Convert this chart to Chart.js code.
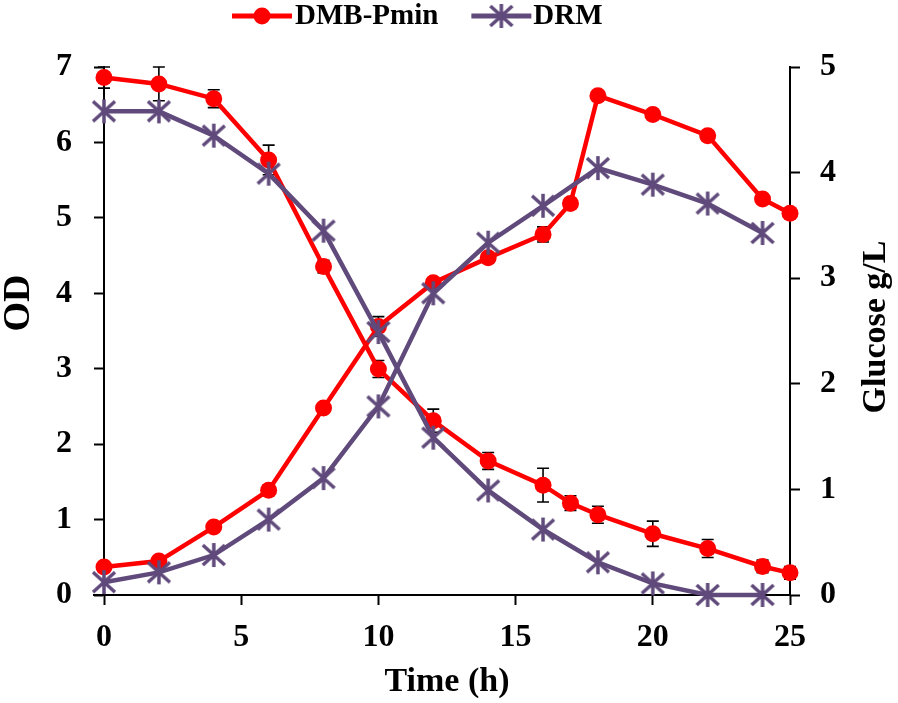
<!DOCTYPE html>
<html>
<head>
<meta charset="utf-8">
<script src="https://cdn.jsdelivr.net/npm/chart.js@4.4.0/dist/chart.umd.min.js"></script>
<style>
  html, body { margin: 0; padding: 0; background: #fff; }
  #wrap { width: 898px; height: 703px; position: relative; }
</style>
</head>
<body>
<div id="wrap"><canvas id="growthChart"></canvas></div>
<script>
// sampling times (h)
const timeDMB = [0, 2, 4, 6, 8, 10, 12, 14, 16, 17, 18, 20, 22, 24, 25];
const timeDRM = [0, 2, 4, 6, 8, 10, 12, 14, 16, 18, 20, 22, 24];

// OD (left axis)
const odDMB = [0.37, 0.45, 0.90, 1.39, 2.48, 3.56, 4.14, 4.47, 4.78, 5.19, 6.62, 6.37, 6.09, 5.25, 5.06];
const odDMBErr = [0.05, 0.05, 0.05, 0.07, 0.05, 0.13, 0.05, 0.05, 0.10, 0.05, 0.05, 0.05, 0.05, 0.05, 0.05];
const odDRM = [0.17, 0.30, 0.53, 1.00, 1.55, 2.50, 4.00, 4.67, 5.16, 5.66, 5.44, 5.19, 4.80];

// glucose g/L (right axis)
const glcDMB = [4.90, 4.84, 4.70, 4.12, 3.11, 2.14, 1.65, 1.27, 1.04, 0.87, 0.76, 0.58, 0.44, 0.27, 0.21];
const glcDMBErr = [0.10, 0.16, 0.085, 0.14, 0.06, 0.08, 0.11, 0.08, 0.16, 0.07, 0.08, 0.12, 0.085, 0.06, 0.06];
const glcDRM = [4.58, 4.58, 4.35, 3.99, 3.45, 2.49, 1.49, 0.99, 0.62, 0.31, 0.11, 0, 0];

const seriesNames = ["DMB-Pmin", "DRM"];

const red = "#FF0000";
const purple = "#604A7B";
const serif = "'Liberation Serif', 'Times New Roman', serif";

function toPoints(xs, ys) {
  return xs.map((x, i) => ({ x: x, y: ys[i] }));
}

// excel style star marker: X with a vertical bar
function makeStar() {
  const c = document.createElement("canvas");
  c.width = 28;
  c.height = 28;
  const g = c.getContext("2d");
  g.strokeStyle = purple;
  g.lineWidth = 3.5;
  g.beginPath();
  g.moveTo(3, 4);
  g.lineTo(25, 24);
  g.moveTo(25, 4);
  g.lineTo(3, 24);
  g.moveTo(14, 2);
  g.lineTo(14, 26);
  g.stroke();
  return c;
}
const starImg = makeStar();

const redStyle = {
  borderColor: red,
  backgroundColor: red,
  borderWidth: 4.5,
  pointStyle: "circle",
  pointRadius: 8.5,
  pointBorderWidth: 0,
  pointBackgroundColor: red,
  tension: 0,
  clip: false,
  order: 2,
};
const purpleStyle = {
  borderColor: purple,
  backgroundColor: purple,
  borderWidth: 4.5,
  pointStyle: starImg,
  pointRadius: 12,
  tension: 0,
  clip: false,
  order: 1,
};

// error bars, drawn under the markers
const errorBars = {
  id: "errorBars",
  beforeDatasetsDraw(chart) {
    const ctx = chart.ctx;
    chart.data.datasets.forEach((ds, i) => {
      if (!ds.errors) return;
      const yScale = chart.scales[ds.yAxisID];
      const meta = chart.getDatasetMeta(i);
      ctx.save();
      ctx.strokeStyle = "#000";
      ctx.lineWidth = 1.6;
      meta.data.forEach((pt, j) => {
        const v = ds.data[j].y;
        const e = ds.errors[j];
        const top = yScale.getPixelForValue(v + e);
        const bot = yScale.getPixelForValue(v - e);
        ctx.beginPath();
        ctx.moveTo(pt.x, top);
        ctx.lineTo(pt.x, bot);
        ctx.moveTo(pt.x - 6, top);
        ctx.lineTo(pt.x + 6, top);
        ctx.moveTo(pt.x - 6, bot);
        ctx.lineTo(pt.x + 6, bot);
        ctx.stroke();
      });
      ctx.restore();
    });
  },
};

// legend on top + vertical axis titles
const extras = {
  id: "extras",
  afterDraw(chart) {
    const ctx = chart.ctx;
    const area = chart.chartArea;
    ctx.save();

    // x axis line runs a little past the OD axis
    ctx.strokeStyle = "#000";
    ctx.lineWidth = 2;
    ctx.beginPath();
    ctx.moveTo(area.left - 11, area.bottom);
    ctx.lineTo(area.left, area.bottom);
    ctx.stroke();

    ctx.fillStyle = "#000";
    ctx.font = "bold 29px " + serif;
    ctx.textBaseline = "middle";
    ctx.textAlign = "left";
    let x = 232;
    const ly = 16;
    // DMB-Pmin
    ctx.strokeStyle = red;
    ctx.lineWidth = 5;
    ctx.beginPath();
    ctx.moveTo(x, ly);
    ctx.lineTo(x + 60, ly);
    ctx.stroke();
    ctx.fillStyle = red;
    ctx.beginPath();
    ctx.arc(x + 30, ly, 8.5, 0, Math.PI * 2);
    ctx.fill();
    ctx.fillStyle = "#000";
    ctx.fillText(seriesNames[0], x + 63, ly + 1);
    x += 63 + ctx.measureText(seriesNames[0]).width + 33;
    // DRM
    ctx.strokeStyle = purple;
    ctx.beginPath();
    ctx.moveTo(x, ly);
    ctx.lineTo(x + 60, ly);
    ctx.stroke();
    ctx.drawImage(starImg, x + 30 - 14, ly - 14);
    ctx.fillText(seriesNames[1], x + 62, ly + 1);

    // y titles
    ctx.textAlign = "center";
    ctx.save();
    ctx.translate(19, 303);
    ctx.rotate(-Math.PI / 2);
    ctx.font = "bold 38px " + serif;
    ctx.fillText("OD", 0, 0);
    ctx.restore();

    ctx.save();
    ctx.translate(876, (area.top + area.bottom) / 2 - 4);
    ctx.rotate(-Math.PI / 2);
    ctx.font = "bold 34px " + serif;
    ctx.fillText("Glucose g/L", 0, 0);
    ctx.restore();
    ctx.restore();
  },
};

const tickFont = { family: serif, size: 32, weight: "bold" };
const tickGrid = {
  display: true,
  drawOnChartArea: false,
  drawTicks: true,
  tickLength: 10,
  tickWidth: 2,
  tickColor: "#000",
};
const axisBorder = { display: true, color: "#000", width: 2 };

const ctx = document.getElementById("growthChart").getContext("2d");

let growthChart = new Chart(ctx, {
  type: "line",
  data: {
    datasets: [
      Object.assign({ label: seriesNames[0] + " OD", data: toPoints(timeDMB, odDMB), errors: odDMBErr, yAxisID: "y" }, redStyle),
      Object.assign({ label: seriesNames[0] + " glucose", data: toPoints(timeDMB, glcDMB), errors: glcDMBErr, yAxisID: "y2" }, redStyle),
      Object.assign({ label: seriesNames[1] + " OD", data: toPoints(timeDRM, odDRM), yAxisID: "y" }, purpleStyle),
      Object.assign({ label: seriesNames[1] + " glucose", data: toPoints(timeDRM, glcDRM), yAxisID: "y2" }, purpleStyle),
    ],
  },
  options: {
    responsive: true,
    maintainAspectRatio: false,
    animation: false,
    layout: { padding: { top: 67, left: 0, right: 0, bottom: 0 } },
    scales: {
      x: {
        type: "linear",
        min: 0,
        max: 25,
        ticks: { stepSize: 5, color: "#000", font: tickFont, padding: 14 },
        grid: tickGrid,
        border: axisBorder,
        title: {
          display: true,
          text: "Time (h)",
          color: "#000",
          font: { family: serif, size: 34, weight: "bold", lineHeight: 1 },
          padding: { top: 0, bottom: 4 },
        },
        afterFit(scale) {
          scale.height = 108;
        },
      },
      y: {
        position: "left",
        min: 0,
        max: 7,
        ticks: { stepSize: 1, color: "#000", font: tickFont, padding: 22 },
        grid: tickGrid,
        border: axisBorder,
        afterFit(scale) {
          scale.width = 104;
        },
      },
      y2: {
        position: "right",
        min: 0,
        max: 5,
        ticks: { stepSize: 1, color: "#000", font: tickFont, padding: 20 },
        grid: tickGrid,
        border: axisBorder,
        afterFit(scale) {
          scale.width = 108;
        },
      },
    },
    plugins: {
      legend: { display: false },
      tooltip: { enabled: false },
    },
  },
  plugins: [errorBars, extras],
});
</script>
</body>
</html>
